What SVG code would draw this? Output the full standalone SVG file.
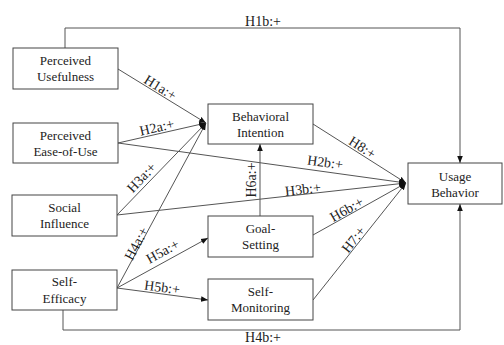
<svg xmlns="http://www.w3.org/2000/svg" width="504" height="345" viewBox="0 0 504 345">
<defs>
<marker id="ah" viewBox="0 0 10 10" refX="10" refY="5" markerWidth="7" markerHeight="7" markerUnits="userSpaceOnUse" orient="auto">
<path d="M0,1 L10,5 L0,9 Z" fill="#111"/>
</marker>
<style>
.box{fill:#fff;stroke:#444;stroke-width:1}
.bt{font-family:"Liberation Serif","Times New Roman",serif;font-size:13px;fill:#222;text-anchor:middle}
.lb{font-family:"Liberation Serif","Times New Roman",serif;font-size:14px;fill:#222;text-anchor:middle}
.ln{fill:none;stroke:#555;stroke-width:1}
</style>
</defs>
<rect width="504" height="345" fill="#fff"/>
<g id="connectors">
<polyline class="ln" points="65,48 65,28 460,28 460,163" marker-end="url(#ah)"/>
<polyline class="ln" points="63,310 63,330 460,330 460,204" marker-end="url(#ah)"/>
<line class="ln" x1="118" y1="69" x2="206" y2="123" marker-end="url(#ah)"/>
<line class="ln" x1="118" y1="143" x2="206" y2="123" marker-end="url(#ah)"/>
<line class="ln" x1="117" y1="215" x2="206" y2="123" marker-end="url(#ah)"/>
<line class="ln" x1="117" y1="288" x2="206" y2="123" marker-end="url(#ah)"/>
<line class="ln" x1="118" y1="143" x2="406" y2="183" marker-end="url(#ah)"/>
<line class="ln" x1="117" y1="215" x2="406" y2="183" marker-end="url(#ah)"/>
<line class="ln" x1="313" y1="124" x2="406" y2="183" marker-end="url(#ah)"/>
<line class="ln" x1="313" y1="235" x2="406" y2="183" marker-end="url(#ah)"/>
<line class="ln" x1="313" y1="300" x2="406" y2="183" marker-end="url(#ah)"/>
<line class="ln" x1="117" y1="288" x2="208" y2="238" marker-end="url(#ah)"/>
<line class="ln" x1="117" y1="288" x2="208" y2="300" marker-end="url(#ah)"/>
<line class="ln" x1="260" y1="216" x2="260" y2="144" marker-end="url(#ah)"/>
<text class="lb" x="263" y="26">H1b:+</text>
<text class="lb" x="263" y="342">H4b:+</text>
<text class="lb" transform="translate(160,88) rotate(31.8)" y="4">H1a:+</text>
<text class="lb" transform="translate(157,128) rotate(-12.9)" y="4">H2a:+</text>
<text class="lb" transform="translate(142,178) rotate(-46.3)" y="4">H3a:+</text>
<text class="lb" transform="translate(137,244) rotate(-61.9)" y="4">H4a:+</text>
<text class="lb" transform="translate(163,252) rotate(-28.8)" y="4">H5a:+</text>
<text class="lb" transform="translate(162,288) rotate(7.5)" y="4">H5b:+</text>
<text class="lb" transform="translate(325,163) rotate(7.9)" y="4">H2b:+</text>
<text class="lb" transform="translate(303,190) rotate(-6.3)" y="4">H3b:+</text>
<text class="lb" transform="translate(347,210) rotate(-29.5)" y="4">H6b:+</text>
<text class="lb" transform="translate(354,240) rotate(-51.8)" y="4">H7:+</text>
<text class="lb" transform="translate(362,148) rotate(32.7)" y="4">H8:+</text>
<text class="lb" transform="translate(252,180) rotate(-90)" y="4">H6a:+</text>
</g>
<g id="pu">
<rect class="box" x="13" y="48" width="105" height="41"/>
<text class="bt" x="65.5" y="65">Perceived</text>
<text class="bt" x="65.5" y="81">Usefulness</text>
</g>
<g id="peu">
<rect class="box" x="13" y="123" width="105" height="40"/>
<text class="bt" x="65.5" y="140">Perceived</text>
<text class="bt" x="65.5" y="156">Ease-of-Use</text>
</g>
<g id="si">
<rect class="box" x="12" y="195" width="105" height="41"/>
<text class="bt" x="64.5" y="212">Social</text>
<text class="bt" x="64.5" y="228">Influence</text>
</g>
<g id="se">
<rect class="box" x="12" y="270" width="105" height="40"/>
<text class="bt" x="64.5" y="286">Self-</text>
<text class="bt" x="64.5" y="303">Efficacy</text>
</g>
<g id="bi">
<rect class="box" x="208" y="104" width="105" height="40"/>
<text class="bt" x="260.5" y="121">Behavioral</text>
<text class="bt" x="260.5" y="137">Intention</text>
</g>
<g id="gs">
<rect class="box" x="208" y="216" width="105" height="41"/>
<text class="bt" x="260.5" y="233">Goal-</text>
<text class="bt" x="260.5" y="249">Setting</text>
</g>
<g id="sm">
<rect class="box" x="208" y="279" width="105" height="41"/>
<text class="bt" x="260.5" y="296">Self-</text>
<text class="bt" x="260.5" y="312">Monitoring</text>
</g>
<g id="ub">
<rect class="box" x="408" y="163" width="94" height="41"/>
<text class="bt" x="455" y="181">Usage</text>
<text class="bt" x="455" y="197">Behavior</text>
</g>
</svg>
